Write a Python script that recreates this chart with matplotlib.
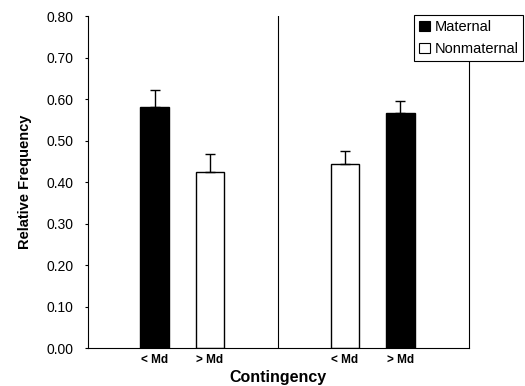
import matplotlib
matplotlib.use("Agg")
import matplotlib.pyplot as plt
from matplotlib.patches import Patch
import numpy as np

plt.rcParams['font.family'] = ['Liberation Sans', 'DejaVu Sans']

# Data
tick_labels = ["< Md", "> Md", "< Md", "> Md"]
panel = [0, 0, 1, 1]
slot = [0, 1, 0, 1]
series = ["Maternal", "Nonmaternal", "Nonmaternal", "Maternal"]
values = [0.581, 0.424, 0.443, 0.566]
errors = [0.041, 0.043, 0.032, 0.029]
legend_labels = ["Maternal", "Nonmaternal"]
yticks = [0.0, 0.1, 0.2, 0.3, 0.4, 0.5, 0.6, 0.7, 0.8]

colors = {"Maternal": "black", "Nonmaternal": "white"}

fig = plt.figure(figsize=(5.25, 3.86), dpi=100)
ax = fig.add_axes([0.1676, 0.0984, 0.7254, 0.8601])

offsets = [0.35, 0.64]
x = np.array([p + offsets[s] for p, s in zip(panel, slot)])
ax.bar(x, values, width=0.15, color=[colors[s] for s in series],
       edgecolor="black", linewidth=1.0, zorder=2)
ax.errorbar(x, values, yerr=[np.zeros(len(errors)), errors], fmt="none",
            ecolor="black", elinewidth=1.0, capsize=3.6, capthick=1.0, zorder=3)

ax.set_xlim(0, 2)
ax.set_ylim(0, 0.8)
ax.set_yticks(yticks)
ax.set_yticklabels([f"{v:.2f}" for v in yticks], fontsize=10)
ax.set_xticks(x)
ax.set_xticklabels(tick_labels, fontsize=8.5, fontweight="bold")
ax.tick_params(axis="x", length=0, pad=4)
ax.tick_params(axis="y", length=2.5, width=0.8, direction="out", pad=8)

ax.spines["top"].set_visible(False)
for sp in ["left", "right", "bottom"]:
    ax.spines[sp].set_linewidth(0.8)
ax.axvline(1.0, color="black", linewidth=0.8, zorder=1)

ax.set_ylabel("Relative Frequency", fontsize=10.5, fontweight="bold", labelpad=10)
ax.set_xlabel("Contingency", fontsize=11.5, fontweight="bold", labelpad=3)

handles = [Patch(facecolor=colors[s], edgecolor="black", linewidth=0.8) for s in legend_labels]
leg = fig.legend(handles, legend_labels, loc="upper right",
                 bbox_to_anchor=(0.997, 0.961), fontsize=10.5, frameon=True,
                 fancybox=False, edgecolor="black", framealpha=1,
                 handlelength=0.75, handleheight=0.75, handletextpad=0.3,
                 borderpad=0.35, labelspacing=0.55, borderaxespad=0)
leg.get_frame().set_linewidth(0.8)

fig.savefig("out.png", dpi=100)
